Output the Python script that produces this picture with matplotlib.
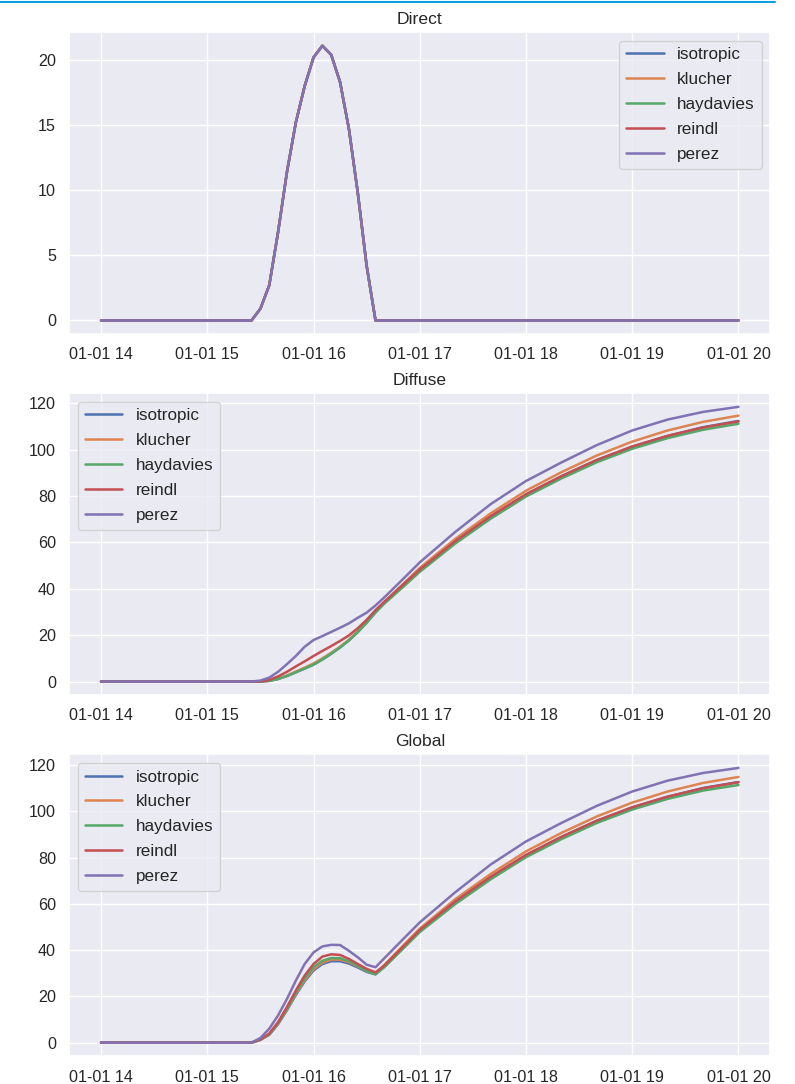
import matplotlib
matplotlib.use("Agg")
import matplotlib.dates as mdates
import matplotlib.pyplot as plt
import pandas as pd
import seaborn as sns
from matplotlib.lines import Line2D

# time stamps (shared by all three panels)
times = [
    "2019-01-01 14:00", "2019-01-01 15:20", "2019-01-01 15:25", "2019-01-01 15:30",
    "2019-01-01 15:35", "2019-01-01 15:40", "2019-01-01 15:45", "2019-01-01 15:50",
    "2019-01-01 15:55", "2019-01-01 16:00", "2019-01-01 16:05", "2019-01-01 16:10",
    "2019-01-01 16:15", "2019-01-01 16:20", "2019-01-01 16:25", "2019-01-01 16:30",
    "2019-01-01 16:35", "2019-01-01 16:40", "2019-01-01 16:50", "2019-01-01 17:00",
    "2019-01-01 17:20", "2019-01-01 17:40", "2019-01-01 18:00", "2019-01-01 18:20",
    "2019-01-01 18:40", "2019-01-01 19:00", "2019-01-01 19:20", "2019-01-01 19:40",
    "2019-01-01 20:00",
]
models = ["isotropic", "klucher", "haydavies", "reindl", "perez"]

# Direct: same for every model
direct = [0, 0, 0, 0.9, 2.7, 6.8, 11.4, 15.2, 18.0, 20.2, 21.1, 20.4, 18.3, 14.7,
          9.8, 4.2, 0, 0, 0, 0, 0, 0, 0, 0, 0, 0, 0, 0, 0]

diffuse_isotropic = [0, 0, 0, 0, 0.3, 1.1, 2.4, 4.0, 5.6, 7.3, 9.5, 12.0, 14.7, 17.8,
                     21.4, 25.5, 30.0, 34.0, 40.9, 48.0, 60.2, 71.0, 80.6, 88.5, 95.5,
                     101.3, 105.9, 109.7, 112.4]
diffuse_klucher = [0, 0, 0, 0, 0.3, 1.2, 2.6, 4.3, 6.0, 7.8, 10.0, 12.4, 15.0, 18.0,
                   21.6, 25.7, 30.2, 34.3, 41.6, 49.0, 61.5, 72.5, 82.3, 90.3, 97.5,
                   103.5, 108.3, 112.0, 114.7]
diffuse_haydavies = [0, 0, 0, 0, 0.3, 1.1, 2.4, 4.0, 5.6, 7.3, 9.5, 12.0, 14.7, 17.7,
                     21.3, 25.3, 29.7, 33.6, 40.4, 47.3, 59.5, 70.2, 79.8, 87.6, 94.6,
                     100.4, 105.0, 108.6, 111.2]
diffuse_reindl = [0, 0, 0, 0, 0.7, 2.2, 4.2, 6.5, 8.7, 11.0, 13.2, 15.3, 17.5, 19.9,
                  23.0, 26.6, 30.8, 34.4, 41.4, 48.3, 60.5, 71.3, 80.8, 88.6, 95.6,
                  101.4, 106.0, 109.6, 112.2]
diffuse_perez = [0, 0, 0, 0.4, 1.7, 4.2, 7.5, 11.0, 15.0, 17.9, 19.6, 21.4, 23.2, 25.1,
                 27.5, 29.7, 32.8, 36.3, 43.8, 51.4, 64.5, 76.5, 86.5, 94.5, 102.0,
                 108.3, 113.0, 116.3, 118.5]

global_isotropic = [0, 0, 0, 1.2, 3.4, 8.0, 14.0, 20.6, 26.5, 31.2, 34.0, 35.2, 35.2,
                    34.2, 32.5, 30.6, 29.5, 33.0, 40.8, 48.4, 60.6, 71.4, 81.0, 88.9,
                    95.9, 101.7, 106.3, 110.1, 112.7]
global_klucher = [0, 0, 0, 1.2, 3.5, 8.2, 14.3, 21.0, 27.0, 31.8, 34.6, 35.9, 35.9,
                  34.8, 33.0, 31.0, 29.8, 33.6, 41.5, 49.3, 62.0, 72.9, 82.7, 90.7,
                  97.8, 103.8, 108.6, 112.3, 114.9]
global_haydavies = [0, 0, 0, 1.3, 3.6, 8.4, 14.7, 21.5, 27.7, 32.6, 35.4, 36.6, 36.5,
                    35.2, 33.2, 31.0, 29.6, 32.6, 40.2, 47.8, 59.9, 70.6, 80.2, 88.0,
                    95.0, 100.8, 105.4, 109.0, 111.4]
global_reindl = [0, 0, 0, 1.4, 3.9, 8.9, 15.4, 22.5, 29.0, 34.0, 37.2, 38.2, 37.9,
                 36.2, 34.0, 31.9, 30.4, 33.3, 41.0, 48.7, 61.0, 71.7, 81.2, 89.0,
                 96.0, 101.8, 106.4, 110.0, 112.6]
global_perez = [0, 0, 0, 2.0, 6.0, 11.8, 18.9, 26.8, 34.0, 39.0, 41.6, 42.3, 42.2,
                39.7, 36.9, 33.7, 32.6, 36.5, 44.3, 52.0, 65.0, 77.0, 87.0, 95.0,
                102.4, 108.6, 113.3, 116.6, 118.8]

sns.set_theme(style="darkgrid")
plt.rcParams["font.family"] = ["Liberation Sans", "DejaVu Sans"]

x = pd.to_datetime(times)
panels = [
    ("Direct", [direct] * 5, "upper right"),
    ("Diffuse", [diffuse_isotropic, diffuse_klucher, diffuse_haydavies,
                 diffuse_reindl, diffuse_perez], "upper left"),
    ("Global", [global_isotropic, global_klucher, global_haydavies,
                global_reindl, global_perez], "upper left"),
]

fig, axes = plt.subplots(3, 1, figsize=(7.95, 10.84), dpi=100)
fig.subplots_adjust(left=0.087, right=0.969, top=0.9705, bottom=0.0255, hspace=0.195)

for ax, (title, series, loc) in zip(axes, panels):
    for name, values in zip(models, series):
        ax.plot(x, values, label=name, lw=1.8)
    ax.set_title(title, fontsize=12.6)
    ax.xaxis.set_major_locator(mdates.HourLocator())
    ax.xaxis.set_major_formatter(mdates.DateFormatter("%m-%d %H"))
    ax.tick_params(labelsize=11.6)
    ax.legend(loc=loc, fontsize=12.3, handlelength=2.2, labelspacing=0.58)

fig.add_artist(Line2D([0, 0.975], [0.9985, 0.9985], color="#0aa0df", lw=1.5,
                      transform=fig.transFigure))

plt.savefig("out.png")
